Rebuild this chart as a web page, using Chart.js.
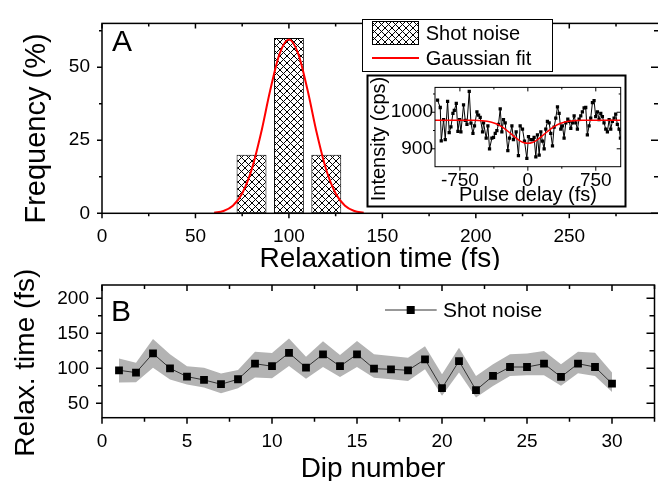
<!DOCTYPE html>
<html lang="en">
<head>
  <meta charset="UTF-8" />
  <title>Relaxation time histogram and dip series</title>
  <style>
    body { margin: 0; background: #fff; width: 658px; height: 481px; overflow: hidden; position: relative; }
    canvas { position: absolute; }
    #chartA { left: 0; top: 0; }
    #chartB { left: 0; top: 260px; }
    #inset { left: 366px; top: 74px; }
  </style>
</head>
<body>
  <canvas id="chartA" width="660" height="270"></canvas>
  <canvas id="chartB" width="660" height="221"></canvas>
  <canvas id="inset" width="261" height="134"></canvas>

  <script src="https://cdn.jsdelivr.net/npm/chart.js"></script>
  <script>
    // panel A: histogram of relaxation times + gaussian fit
    const relaxBins = [80, 100, 120];
    const relaxFreq = [20, 60, 20];
    const fitTime = [60, 65, 70, 75, 80, 85, 90, 95, 100, 105, 110, 115, 120, 125, 130, 135, 140];
    const fitFreq = [0.2, 0.8, 2.6, 6.8, 14.8, 27.2, 42.1, 54.6, 59.5, 54.6, 42.1, 27.2, 14.8, 6.8, 2.6, 0.8, 0.2];
    const aXTicks = [0, 50, 100, 150, 200, 250];
    const aYTicks = [0, 25, 50];

    // inset: intensity vs pulse delay
    const delay = [-997, -967, -956, -930, -912, -886, -868, -849, -827, -812, -790, -772, -754, -739, -710, -691, -672, -647, -628, -606,
      -589, -562, -544, -526, -500, -489, -460, -441, -423, -397, -379, -360, -342, -324, -305, -287, -269, -250, -221, -203,
      -176, -159, -129, -104, -85, -59, -37, -11, 7,
      33, 51, 69, 88, 106, 125, 143, 161, 180, 198, 216, 235, 253, 272, 290, 308, 327, 345, 363, 382,
      400, 419, 441, 455, 474, 492, 511, 529, 547, 566, 584, 602, 621, 639, 657, 676, 694, 713, 731, 749,
      768, 786, 805, 823, 841, 860, 878, 897, 915, 933, 952, 970, 988, 1007, 1022];
    const counts = [1033, 1013, 922, 980, 925, 1030, 944, 960, 997, 1005, 1024, 948, 980, 946, 1020, 978, 967, 1057, 970, 942,
      963, 1001, 992, 986, 946, 971, 929, 963, 900, 929, 931, 942, 950, 967, 1009, 946, 980, 971, 895, 929,
      963, 925, 946, 881, 963, 954, 921, 874, 933,
      925, 925, 931, 878, 938, 883, 946, 921, 900, 954, 975, 971, 942, 908, 959, 984, 1015, 997, 954, 963,
      929, 971, 981, 975, 956, 971, 990, 971, 954, 981, 990, 1001, 1012, 1013, 938, 963, 984, 1026, 1032, 988,
      1001, 980, 997, 988, 971, 954, 946, 980, 954, 975, 984, 995, 967, 954, 929];
    const fitDelay = [-1025, -700, -600, -500, -450, -400, -350, -300, -250, -200, -150, -100, -50, 0,
      50, 100, 150, 200, 250, 300, 350, 400, 450, 500, 600, 700, 1025];
    const fitCounts = [978, 978, 977.8, 976.7, 975.2, 972.7, 968.5, 962.3, 954, 944, 933.5, 924, 917.4, 915,
      917.4, 924, 933.5, 944, 954, 962.3, 968.5, 972.7, 975.2, 976.7, 977.8, 978, 978];
    const insetXTicks = [-750, 0, 750];
    const insetYTicks = [900, 1000];

    // panel B: relaxation time per dip with uncertainty band
    const dips = [1, 2, 3, 4, 5, 6, 7, 8, 9, 10, 11, 12, 13, 14, 15, 16, 17, 18, 19, 20, 21, 22, 23, 24, 25, 26, 27, 28, 29, 30];
    const relax = [97.2, 93.9, 121.3, 100, 88.2, 83.4, 77.3, 84.4, 106.6, 103, 122, 101, 120, 103, 120,
      99.5, 98.6, 97.2, 112.8, 71.6, 110.4, 68.8, 89.1, 101.9, 101.9, 106.6, 87.7, 106.6, 101.9, 78.2];
    const relaxHigh = [114, 108, 142, 120, 103, 101, 92.5, 97.6, 123.7, 122, 142.6, 116.6, 138.8, 119, 139,
      120, 117.5, 115, 131.7, 91.5, 129.4, 89, 105.7, 120, 121.3, 124.6, 105.7, 123.7, 122.3, 93.9];
    const relaxLow = [79.7, 80, 101, 84, 77, 72.6, 64.5, 71.6, 86.8, 85.8, 103.3, 85, 101.8, 87.6, 102,
      86.7, 84.4, 82, 98.6, 60.7, 93.9, 58.4, 74.9, 89, 90, 90, 75, 92.9, 89, 66.3];
    const bXTicks = [0, 5, 10, 15, 20, 25, 30];
    const bYTicks = [50, 100, 150, 200];

    const FONT = '"Liberation Sans", Arial, sans-serif';

    function hatch() {
      const c = document.createElement('canvas');
      c.width = c.height = 7;
      const g = c.getContext('2d');
      g.fillStyle = '#fff';
      g.fillRect(0, 0, 7, 7);
      g.strokeStyle = '#000';
      g.lineWidth = 1;
      g.beginPath();
      g.moveTo(0, 0); g.lineTo(7, 7);
      g.moveTo(7, 0); g.lineTo(0, 7);
      g.stroke();
      return g.createPattern(c, 'repeat');
    }
    const hatchFill = hatch();

    function label(ctx, text, x, y, size, align, rot) {
      ctx.save();
      ctx.font = size + 'px ' + FONT;
      ctx.fillStyle = '#000';
      ctx.textAlign = align || 'left';
      ctx.textBaseline = 'alphabetic';
      ctx.translate(x, y);
      if (rot) ctx.rotate(-Math.PI / 2);
      ctx.fillText(text, 0, 0);
      ctx.restore();
    }

    // box around plot + major/minor ticks (outward bottom/left, inward top/right)
    function drawFrame(chart, f) {
      const { ctx, chartArea: a, scales: { x, y } } = chart;
      const isMajor = (v, m) => Math.abs(v / m - Math.round(v / m)) < 1e-6;
      ctx.save();
      ctx.strokeStyle = '#000';
      ctx.lineWidth = f.lw;
      ctx.strokeRect(a.left, a.top, a.right - a.left, a.bottom - a.top);
      ctx.beginPath();
      for (let v = Math.ceil(x.min / f.xMinor) * f.xMinor; v <= x.max + 1e-9; v += f.xMinor) {
        const px = x.getPixelForValue(v);
        const l = isMajor(v, f.xMajor) ? f.major : f.minor;
        ctx.moveTo(px, a.bottom); ctx.lineTo(px, a.bottom + l);
        ctx.moveTo(px, a.top); ctx.lineTo(px, a.top + l);
      }
      for (let v = Math.ceil(y.min / f.yMinor) * f.yMinor; v <= y.max + 1e-9; v += f.yMinor) {
        const py = y.getPixelForValue(v);
        const major = isMajor(v, f.yMajor);
        const l = major ? f.major : f.minor;
        const r = major ? f.rMajor : f.rMinor;
        ctx.moveTo(a.left - l, py); ctx.lineTo(a.left, py);
        ctx.moveTo(a.right, py); ctx.lineTo(a.right - r, py);
      }
      ctx.stroke();
      ctx.restore();
    }

    function tickFont(size) {
      return { family: FONT, size: size };
    }

    function axis(min, max, list, size, pad, fit) {
      return {
        type: 'linear', min: min, max: max, offset: false,
        grid: { display: false, drawTicks: false },
        border: { display: false },
        ticks: { color: '#000', font: tickFont(size), padding: pad, maxRotation: 0, autoSkip: false, callback: v => String(v) },
        afterBuildTicks: s => { s.ticks = list.map(v => ({ value: v })); },
        afterFit: fit
      };
    }

    // ---------- panel A ----------
    new Chart(document.getElementById('chartA'), {
      type: 'bar',
      data: {
        datasets: [
          {
            type: 'line',
            data: fitTime.map((t, i) => ({ x: t, y: fitFreq[i] })),
            borderColor: '#ff0000', borderWidth: 2, pointRadius: 0,
            cubicInterpolationMode: 'monotone', order: 1
          },
          {
            type: 'bar',
            data: relaxBins.map((b, i) => ({ x: b, y: relaxFreq[i] })),
            backgroundColor: hatchFill, borderColor: '#000', borderWidth: 1,
            borderSkipped: false, barPercentage: 1, categoryPercentage: 0.8, order: 2
          }
        ]
      },
      options: {
        responsive: false, animation: false,
        layout: { padding: { top: 15, right: 1, left: 0, bottom: 0 } },
        plugins: { legend: { display: false }, tooltip: { enabled: false } },
        scales: {
          x: axis(0, 298, aXTicks, 19, 12, s => { s.height = 56.7; }),
          y: axis(0, 65, aYTicks, 19, 12, s => { s.width = 102; })
        }
      },
      plugins: [{
        id: 'decorA',
        afterDraw(chart) {
          const ctx = chart.ctx;
          drawFrame(chart, { lw: 1.5, xMinor: 25, xMajor: 50, yMinor: 12.5, yMajor: 25, major: 5, minor: 3, rMajor: 8, rMinor: 5 });
          label(ctx, 'A', 112, 51, 30);
          label(ctx, 'Relaxation time (fs)', 380, 267, 28, 'center');
          label(ctx, 'Frequency (%)', 45, 128.5, 29, 'center', true);
          // legend
          ctx.save();
          ctx.fillStyle = '#fff';
          ctx.fillRect(362.5, 19.5, 190, 52);
          ctx.strokeStyle = '#000';
          ctx.lineWidth = 1;
          ctx.strokeRect(362.5, 19.5, 190, 52);
          ctx.fillStyle = hatchFill;
          ctx.fillRect(372.5, 21.5, 46, 23);
          ctx.strokeRect(372.5, 21.5, 46, 23);
          ctx.strokeStyle = '#ff0000';
          ctx.lineWidth = 2;
          ctx.beginPath();
          ctx.moveTo(372, 58); ctx.lineTo(419, 58);
          ctx.stroke();
          ctx.restore();
          label(ctx, 'Shot noise', 425.7, 40, 20);
          label(ctx, 'Gaussian fit', 425.7, 65, 20);
        }
      }]
    });

    // ---------- inset ----------
    new Chart(document.getElementById('inset'), {
      type: 'line',
      data: {
        datasets: [
          {
            data: fitDelay.map((t, i) => ({ x: t, y: fitCounts[i] })),
            borderColor: '#ff0000', borderWidth: 1.5, pointRadius: 0, cubicInterpolationMode: 'monotone'
          },
          {
            data: delay.map((t, i) => ({ x: t, y: counts[i] })),
            borderColor: '#000', borderWidth: 1, pointStyle: 'rect', pointRadius: 2.3,
            pointBackgroundColor: '#000', pointBorderWidth: 0
          }
        ]
      },
      options: {
        responsive: false, animation: false,
        layout: { padding: { top: 7, right: 6.3, left: 0, bottom: 0 } },
        plugins: { legend: { display: false }, tooltip: { enabled: false } },
        scales: {
          x: axis(-1025, 1025, insetXTicks, 19, 3, s => { s.height = 41.3; }),
          y: axis(851, 1068, insetYTicks, 19, 2, s => { s.width = 69; })
        }
      },
      plugins: [{
        id: 'decorInset',
        beforeDraw(chart) {
          const ctx = chart.ctx;
          ctx.save();
          ctx.fillStyle = '#fff';
          ctx.fillRect(0, 0, chart.width, chart.height);
          ctx.restore();
        },
        afterDraw(chart) {
          const ctx = chart.ctx;
          drawFrame(chart, { lw: 1, xMinor: 375, xMajor: 750, yMinor: 50, yMajor: 100, major: 4, minor: 2, rMajor: 4, rMinor: 2 });
          ctx.save();
          ctx.strokeStyle = '#000';
          ctx.lineWidth = 2;
          ctx.strokeRect(1.5, 1.5, 258, 131);
          ctx.restore();
          label(ctx, 'Intensity (cps)', 19, 65, 20, 'center', true);
          label(ctx, 'Pulse delay (fs)', 162, 127, 20, 'center');
        }
      }]
    });

    // ---------- panel B ----------
    new Chart(document.getElementById('chartB'), {
      type: 'line',
      data: {
        datasets: [
          {
            data: dips.map((d, i) => ({ x: d, y: relax[i] })),
            borderColor: '#333', borderWidth: 1, pointStyle: 'rect', pointRadius: 5.5,
            pointBackgroundColor: '#000', pointBorderWidth: 0
          },
          {
            data: dips.map((d, i) => ({ x: d, y: relaxLow[i] })),
            borderColor: 'rgba(0,0,0,0)', borderWidth: 0, pointRadius: 0, fill: false
          },
          {
            data: dips.map((d, i) => ({ x: d, y: relaxHigh[i] })),
            borderColor: 'rgba(0,0,0,0)', borderWidth: 0, pointRadius: 0,
            fill: '-1', backgroundColor: '#b3b3b3'
          }
        ]
      },
      options: {
        responsive: false, animation: false,
        layout: { padding: { top: 25, right: 1, left: 0, bottom: 0 } },
        plugins: { legend: { display: false }, tooltip: { enabled: false } },
        scales: {
          x: axis(0, 32.5, bXTicks, 19, 13, s => { s.height = 63.3; }),
          y: axis(29.5, 219, bYTicks, 19, 13, s => { s.width = 102; })
        }
      },
      plugins: [{
        id: 'decorB',
        afterDraw(chart) {
          const ctx = chart.ctx;
          drawFrame(chart, { lw: 1.5, xMinor: 2.5, xMajor: 5, yMinor: 25, yMajor: 50, major: 6, minor: 4, rMajor: 8, rMinor: 5 });
          label(ctx, 'B', 111, 60.7, 30);
          label(ctx, 'Dip number', 373, 216.5, 28, 'center');
          label(ctx, 'Relax. time (fs)', 33.5, 102.7, 28, 'center', true);
          ctx.save();
          ctx.strokeStyle = '#333';
          ctx.lineWidth = 1;
          ctx.beginPath();
          ctx.moveTo(385, 50); ctx.lineTo(436.7, 50);
          ctx.stroke();
          ctx.fillStyle = '#000';
          ctx.fillRect(406.7, 46, 8, 8);
          ctx.restore();
          label(ctx, 'Shot noise', 443, 56.7, 21);
        }
      }]
    });
  </script>
</body>
</html>
